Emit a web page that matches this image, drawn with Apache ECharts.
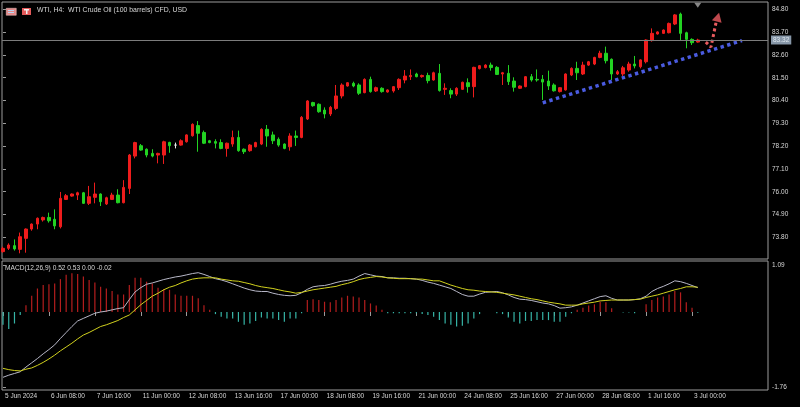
<!DOCTYPE html>
<html><head><meta charset="utf-8">
<script src="https://cdn.jsdelivr.net/npm/echarts@6/dist/echarts.min.js"></script>
<style>html,body{margin:0;padding:0;background:#000;overflow:hidden}#c{width:800px;height:407px}</style>
</head><body><div id="c"></div>
<script>
// ---- data ----
const titleText = 'WTI, H4:  WTI Crude Oil (100 barrels) CFD, USD';
const macdTitle = 'MACD(12,26,9) 0.52 0.53 0.00 -0.02';
const timeLabels = ['5 Jun 2024','6 Jun 08:00','7 Jun 16:00','11 Jun 00:00','12 Jun 08:00','13 Jun 16:00','17 Jun 00:00','18 Jun 08:00','19 Jun 16:00','21 Jun 00:00','24 Jun 08:00','25 Jun 16:00','27 Jun 00:00','28 Jun 08:00','1 Jul 16:00','3 Jul 00:00'];
const timeLabelBars = [0,8,16,24,32,40,48,56,64,72,80,88,96,104,112,120];
const priceTicks = [84.8,83.7,82.6,81.5,80.4,79.3,78.2,77.1,76.0,74.9,73.8];
const macdTicks = [1.09,-1.76];
const lastPrice = 83.32;
// [open, close, low, high] per H4 bar
const ohlc = [
[73.11,73.27,73.06,73.35],[73.27,73.43,73.19,73.51],[73.40,73.24,73.16,73.70],[73.22,73.83,73.03,74.03],
[73.75,74.20,73.06,74.23],[74.20,74.44,74.12,74.47],[74.44,74.72,74.19,74.76],[74.64,74.76,74.56,74.80],
[74.76,74.60,74.51,74.99],[74.67,74.35,74.19,75.15],[74.31,75.68,74.23,75.99],[75.63,75.81,75.60,75.89],
[75.79,75.89,75.76,75.92],[75.84,75.95,75.60,76.00],[75.95,75.44,75.41,75.99],[75.44,75.76,75.36,76.28],
[75.73,75.89,75.44,76.44],[75.89,75.52,75.31,75.92],[75.41,75.71,75.36,75.76],[75.63,75.84,75.60,75.95],
[75.84,75.47,75.44,76.12],[75.47,76.21,75.44,76.56],[76.16,77.77,75.89,77.82],[77.72,78.37,77.61,78.41],
[78.22,78.01,77.98,78.30],[78.05,77.77,77.66,78.09],[77.85,77.72,77.66,78.05],[77.77,77.85,77.37,77.88],
[77.77,78.41,77.34,78.46],[78.38,78.22,77.88,78.41],[78.25,78.25,78.09,78.37],[78.25,78.46,78.22,78.53],
[78.41,78.74,78.37,78.77],[78.70,79.25,78.66,79.30],[79.19,78.82,77.93,79.41],[78.86,78.34,78.30,78.95],
[78.46,78.37,78.34,78.50],[78.42,78.34,78.09,78.53],[78.37,78.09,78.05,78.53],[78.09,78.34,77.69,78.37],
[78.30,78.62,78.17,78.95],[78.62,77.98,77.93,78.95],[78.05,77.93,77.82,78.09],[77.98,78.25,77.93,78.30],
[78.17,78.37,78.14,78.41],[78.30,79.01,78.25,79.06],[79.01,78.69,78.17,79.22],[78.74,78.46,78.30,78.90],
[78.53,78.25,78.17,78.62],[78.30,78.09,78.05,78.33],[78.17,78.69,77.98,78.82],[78.69,78.62,78.21,78.95],
[78.62,79.59,78.58,79.65],[79.51,80.38,79.46,80.42],[80.30,80.15,80.10,80.34],[80.22,79.86,79.81,80.26],
[79.94,79.75,79.54,80.07],[79.75,80.07,79.65,80.14],[80.02,80.62,79.94,81.15],[80.62,81.15,80.50,81.23],
[81.10,81.26,81.07,81.29],[81.23,81.10,81.04,81.31],[81.15,80.75,80.67,81.23],[80.78,81.42,80.75,81.47],
[81.42,80.83,80.78,81.55],[80.86,81.02,80.81,81.07],[80.99,80.83,80.78,81.04],[80.81,80.91,80.78,80.94],
[80.86,81.07,80.78,81.10],[81.02,81.42,80.91,81.47],[81.39,81.58,81.23,81.87],[81.55,81.61,81.39,81.90],
[81.68,81.55,81.52,81.74],[81.55,81.61,81.50,81.65],[81.61,81.36,81.23,81.74],[81.39,81.74,81.36,81.79],
[81.71,80.88,80.83,82.16],[80.94,80.99,80.67,81.23],[80.88,80.71,80.51,80.99],[80.71,80.99,80.62,81.04],
[80.94,81.28,80.91,81.31],[81.26,81.07,80.78,81.47],[81.07,82.00,80.55,82.03],[81.94,82.08,81.90,82.11],
[81.99,82.11,81.95,82.15],[82.11,81.99,81.84,82.23],[82.00,81.66,81.63,82.06],[81.68,81.74,81.15,81.78],
[81.71,81.31,81.15,82.11],[81.34,81.04,80.83,81.52],[80.99,81.10,80.96,81.13],[81.07,81.55,81.04,81.58],
[81.55,81.39,81.31,81.68],[81.42,81.39,81.31,81.90],[81.42,81.29,80.43,81.63],[81.34,81.10,80.91,81.84],
[81.15,80.87,80.83,81.23],[80.83,81.02,80.79,81.04],[80.91,81.68,80.88,81.71],[81.63,81.95,81.58,82.00],
[81.95,81.74,81.39,82.27],[81.68,82.11,81.63,82.27],[82.11,82.27,82.07,82.31],[82.16,82.48,82.11,82.51],
[82.48,82.68,82.44,82.80],[82.68,82.32,82.19,83.00],[82.39,81.68,81.39,82.43],[81.68,81.79,81.63,81.87],
[81.68,81.98,81.58,82.07],[81.87,82.16,81.79,82.27],[82.16,82.07,81.95,82.55],[82.03,82.36,81.95,82.39],
[82.27,83.32,82.19,83.35],[83.29,83.64,83.24,83.88],[83.61,83.71,83.58,83.74],[83.64,83.80,83.61,83.83],
[83.67,84.12,83.64,84.16],[84.09,84.53,84.04,84.57],[84.57,83.64,83.32,84.64],[83.67,83.35,82.92,83.72],
[83.35,83.19,83.08,83.40],[83.22,83.32,83.19,83.38]
];
const macdLine = [
-1.53,-1.48,-1.44,-1.40,-1.29,-1.19,-1.09,-0.98,-0.88,-0.77,-0.62,-0.48,-0.34,-0.21,-0.15,-0.09,-0.03,0.00,0.02,0.05,
0.08,0.10,0.29,0.47,0.57,0.65,0.68,0.72,0.76,0.79,0.82,0.84,0.87,0.90,0.92,0.88,0.83,0.78,0.75,0.71,
0.66,0.61,0.56,0.52,0.49,0.48,0.48,0.44,0.41,0.39,0.38,0.39,0.45,0.53,0.59,0.61,0.62,0.65,0.69,0.72,
0.74,0.77,0.84,0.90,0.87,0.84,0.83,0.80,0.80,0.79,0.79,0.78,0.77,0.74,0.70,0.67,0.63,0.59,0.55,0.48,
0.41,0.37,0.37,0.42,0.46,0.47,0.48,0.45,0.40,0.34,0.30,0.29,0.27,0.24,0.21,0.19,0.15,0.09,0.10,0.12,
0.16,0.21,0.26,0.31,0.36,0.38,0.32,0.28,0.28,0.28,0.29,0.31,0.37,0.48,0.55,0.60,0.66,0.73,0.71,0.67,
0.62,0.57
];
const signalLine = [
-1.32,-1.35,-1.37,-1.38,-1.34,-1.31,-1.25,-1.18,-1.10,-1.01,-0.91,-0.82,-0.73,-0.63,-0.54,-0.48,-0.41,-0.34,-0.30,-0.25,
-0.20,-0.13,-0.07,0.05,0.17,0.27,0.37,0.44,0.52,0.58,0.62,0.68,0.73,0.77,0.79,0.80,0.80,0.80,0.77,0.75,
0.73,0.72,0.69,0.66,0.62,0.59,0.57,0.55,0.52,0.49,0.47,0.44,0.46,0.49,0.52,0.54,0.56,0.58,0.60,0.64,
0.67,0.71,0.76,0.79,0.81,0.83,0.82,0.80,0.79,0.78,0.78,0.78,0.77,0.77,0.75,0.73,0.73,0.68,0.63,0.59,
0.55,0.52,0.51,0.49,0.48,0.47,0.46,0.44,0.42,0.40,0.37,0.34,0.31,0.29,0.26,0.23,0.21,0.19,0.16,0.16,
0.16,0.19,0.21,0.23,0.26,0.27,0.28,0.28,0.28,0.28,0.29,0.30,0.34,0.37,0.40,0.44,0.48,0.52,0.55,0.59,
0.59,0.58
];
const macdHist = [
-0.30,-0.40,-0.27,-0.07,0.16,0.38,0.55,0.63,0.65,0.67,0.77,0.87,0.91,0.89,0.83,0.75,0.69,0.59,0.55,0.49,
0.41,0.41,0.63,0.80,0.80,0.71,0.67,0.57,0.54,0.52,0.41,0.38,0.38,0.38,0.32,0.16,0.05,-0.05,-0.11,-0.15,
-0.15,-0.23,-0.30,-0.27,-0.21,-0.13,-0.15,-0.15,-0.19,-0.23,-0.15,-0.15,-0.03,0.28,0.30,0.28,0.24,0.23,0.28,0.34,
0.38,0.36,0.34,0.28,0.20,0.15,0.05,-0.03,-0.03,-0.03,-0.03,-0.03,-0.03,-0.05,-0.07,-0.11,-0.19,-0.27,-0.30,-0.34,
-0.32,-0.27,-0.15,-0.05,0.00,0.00,-0.03,-0.05,-0.13,-0.23,-0.27,-0.21,-0.21,-0.19,-0.19,-0.19,-0.23,-0.23,-0.11,-0.03,
0.05,0.10,0.15,0.18,0.24,0.23,0.09,0.00,-0.01,-0.01,-0.03,0.00,0.18,0.28,0.34,0.36,0.41,0.49,0.46,0.23,
0.10,-0.02
];
// drawn objects: [bar index, price]
const trendLine = [[94.0,80.29],[128.7,83.29]];
const arrowPath = [[122.4,83.22],[123.3,82.98],[124.2,84.19]];
const arrowHead = [124.5,84.42];
const shiftMarker = [121,85.0];

// ---- chart ----
const FONT = 'Liberation Sans';
const TXT = '#d8d8d8';
const FRAME = '#9c9c9c';
const UP = '#ee1c1c', DOWN = '#22d322';
const XMIN = -0.174, XMAX = 133.23;
const candleData = ohlc.map((d,i)=>[i,d[0],d[1],d[2],d[3]]);

const option = {
  animation:false,
  backgroundColor:'#000',
  grid:[
    {left:2, top:2, width:766, height:257, show:true, borderColor:FRAME, borderWidth:1, backgroundColor:'#000'},
    {left:2, top:261, width:766, height:129, show:true, borderColor:FRAME, borderWidth:1, backgroundColor:'#000'}
  ],
  xAxis:[
    {type:'value', gridIndex:0, min:XMIN, max:XMAX, show:false},
    {type:'value', gridIndex:1, min:XMIN, max:XMAX,
     axisLine:{show:false}, splitLine:{show:false},
     axisTick:{show:true, customValues:timeLabelBars, length:4, lineStyle:{color:FRAME}},
     axisLabel:{show:true, customValues:timeLabelBars, align:'left', margin:3, padding:[0,0,0,2],
       color:TXT, fontFamily:FONT, fontSize:6.5,
       formatter:(v)=>{const k=timeLabelBars.indexOf(Math.round(v)); return k>=0?timeLabels[k]:'';}}}
  ],
  yAxis:[
    {type:'value', gridIndex:0, position:'right', min:72.755, max:85.153,
     axisLine:{show:false}, splitLine:{show:false},
     axisTick:{show:true, customValues:priceTicks, length:3, lineStyle:{color:FRAME}},
     axisLabel:{show:true, customValues:priceTicks, margin:4, color:TXT, fontFamily:FONT, fontSize:6.5,
       formatter:(v)=>v.toFixed(2)}},
    {type:'value', gridIndex:1, position:'right', min:-1.827, max:1.194,
     axisLine:{show:false}, splitLine:{show:false},
     axisTick:{show:true, customValues:macdTicks, length:3, lineStyle:{color:FRAME}},
     axisLabel:{show:true, customValues:macdTicks, margin:4, color:TXT, fontFamily:FONT, fontSize:6.5,
       formatter:(v)=>v.toFixed(2)}}
  ],
  graphic:[
    {type:'rect', left:6, top:8, shape:{width:10, height:7}, style:{fill:'#e48a8a', stroke:'#f4c8c8', lineWidth:0.5}},
    {type:'rect', left:8, top:10, shape:{width:6, height:1}, style:{fill:'#bcd6f2'}},
    {type:'rect', left:8, top:12, shape:{width:6, height:1}, style:{fill:'#bcd6f2'}},
    {type:'rect', left:22, top:8, shape:{width:9, height:7}, style:{fill:'#e35a5a'}},
    {type:'rect', left:24, top:9, shape:{width:5, height:1.5}, style:{fill:'#f0f0f0'}},
    {type:'rect', left:26, top:10, shape:{width:1.5, height:4}, style:{fill:'#f0f0f0'}},
    {type:'text', left:37, top:7, style:{text:titleText, fill:TXT, font:'6.9px "'+FONT+'"'}},
    {type:'text', left:5, top:265, style:{text:macdTitle, fill:TXT, font:'6.6px "'+FONT+'"'}}
  ],
  series:[
    {type:'candlestick', xAxisIndex:0, yAxisIndex:0, data:candleData, encode:{x:0, y:[1,2,3,4]},
     barWidth:3,
     itemStyle:{color:UP, color0:DOWN, borderColor:UP, borderColor0:DOWN, borderColorDoji:'#e8e8e8', borderWidth:1},
     markLine:{silent:true, symbol:['none','none'], animation:false,
       lineStyle:{color:'#7c7c7c', type:'solid', width:1},
       label:{show:true, position:'end', distance:3, formatter:lastPrice.toFixed(2), backgroundColor:'#8797a8',
         color:'#dde6ee', fontFamily:FONT, fontSize:6.5, padding:[1,2,1,2]},
       data:[{yAxis:lastPrice}]}},
    {type:'line', xAxisIndex:0, yAxisIndex:0, data:trendLine, symbol:'none', silent:true,
     lineStyle:{color:'#4a5be0', width:3.5, type:[3.4,3.5], cap:'butt'}},
    {type:'line', xAxisIndex:0, yAxisIndex:0, data:arrowPath, symbol:'none', silent:true,
     lineStyle:{color:'#e85a5e', width:3, type:[3,2.8], cap:'butt'}},
    {type:'scatter', xAxisIndex:0, yAxisIndex:0, data:[arrowHead], symbol:'triangle', symbolSize:[10,9], symbolRotate:-15,
     itemStyle:{color:'#ec5a60'}, silent:true},
    {type:'scatter', xAxisIndex:0, yAxisIndex:0, data:[shiftMarker], symbol:'triangle', symbolSize:[7,5], symbolRotate:180,
     itemStyle:{color:'#a8a8a8'}, silent:true},
    {type:'bar', xAxisIndex:1, yAxisIndex:1, data:macdHist.map((v,i)=>[i,v]), barWidth:1.2, silent:true,
     itemStyle:{color:(p)=>p.value[1]>=0?'#b51e1e':'#36b4a6'}},
    {type:'line', xAxisIndex:1, yAxisIndex:1, data:macdLine.map((v,i)=>[i,v]), symbol:'none', silent:true,
     lineStyle:{color:'#b8b8c8', width:1}},
    {type:'line', xAxisIndex:1, yAxisIndex:1, data:signalLine.map((v,i)=>[i,v]), symbol:'none', silent:true,
     lineStyle:{color:'#d2d21e', width:1}}
  ]
};
const chart = echarts.init(document.getElementById('c'));
chart.setOption(option);
</script></body></html>
